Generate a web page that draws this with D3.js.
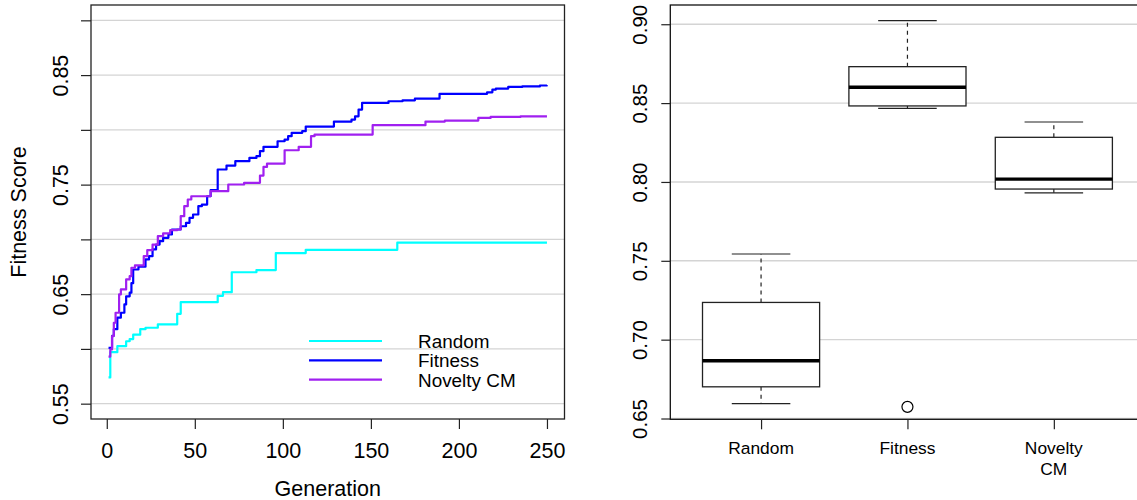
<!DOCTYPE html>
<html>
<head>
<meta charset="utf-8">
<script src="https://cdn.jsdelivr.net/npm/d3@7"></script>
<style>
  body { margin: 0; background: #fff; }
  svg { display: block; font-family: "Liberation Sans", Arial, Helvetica, sans-serif; }
  .grid line { stroke: #d4d4d4; stroke-width: 1.4; }
  .axis path { display: none; }
  .axis line { stroke: #222; stroke-width: 1.2; }
  .axis text { fill: #000; }
</style>
</head>
<body>
<div id="vis"></div>
<script>
// left panel: mean best fitness per generation, [generation, score] at every step change
const randomSteps = [[1,0.574],[2,0.597],[6,0.6025],[11,0.607],[13,0.609],[15,0.613],[19,0.618],[22,0.6193],
  [29,0.6224],[40,0.632],[42,0.6427],[63,0.6485],[66,0.6518],[71,0.670],[85,0.672],[96,0.6875],
  [113,0.6905],[165,0.697],[250,0.697]];
const fitnessSteps = [[1,0.601],[3,0.612],[4,0.618],[6,0.6285],[8,0.633],[10,0.6406],[11,0.648],[13,0.6513],
  [14,0.660],[15,0.6725],[18,0.675],[22,0.6817],[24,0.6847],[26,0.6908],[28,0.6953],[30,0.6984],[32,0.7014],
  [35,0.7045],[37,0.709],[42,0.712],[45,0.7151],[47,0.7197],[49,0.7227],[52,0.7303],[54,0.7318],[57,0.7394],
  [59,0.745],[63,0.7638],[68,0.7674],[73,0.7714],[81,0.7744],[85,0.776],[87,0.7805],[89,0.7845],[97,0.7896],
  [101,0.7911],[103,0.7942],[105,0.7973],[111,0.7988],[113,0.803],[129,0.8076],[139,0.8094],[141,0.8124],
  [143,0.8185],[145,0.8246],[160,0.8261],[168,0.827],[175,0.8286],[189,0.8329],[216,0.8343],[219,0.8368],
  [221,0.8377],[228,0.8392],[236,0.8397],[246,0.8405],[250,0.8407]];
const noveltySteps = [[1,0.593],[2,0.5995],[3,0.6117],[4,0.6239],[5,0.633],[7,0.6497],[8,0.6543],[11,0.6634],
  [13,0.6664],[14,0.6741],[16,0.6762],[21,0.6847],[23,0.6902],[26,0.6953],[29,0.7029],[32,0.7054],[36,0.7084],
  [40,0.709],[42,0.7212],[44,0.7303],[46,0.7364],[48,0.7394],[59,0.744],[69,0.7501],[78,0.7516],[87,0.7583],
  [89,0.7662],[91,0.7692],[101,0.7814],[109,0.7845],[116,0.7942],[118,0.7957],[151,0.8043],[181,0.8076],
  [192,0.8085],[211,0.8109],[218,0.8118],[235,0.8124],[250,0.8124]];

const seriesNames = ["Random", "Fitness", "Novelty CM"];
const seriesColors = ["#00ffff", "#0000ff", "#a020f0"];

const genTicks = [0, 50, 100, 150, 200, 250];
const leftYTicks = [0.55, 0.60, 0.65, 0.70, 0.75, 0.80, 0.85, 0.90];
const leftYLabels = [0.55, 0.65, 0.75, 0.85];

// right panel: final fitness boxplots
const boxGroups = ["Random", "Fitness", "Novelty\nCM"];
const boxLow = [0.6595, 0.8467, 0.7931];
const boxQ1 = [0.6701, 0.8482, 0.7955];
const boxMedian = [0.6866, 0.860, 0.8018];
const boxQ3 = [0.7236, 0.8731, 0.8283];
const boxHigh = [0.7543, 0.9023, 0.838];
const boxOutliers = [[2, 0.6574]];
const rightYTicks = [0.65, 0.70, 0.75, 0.80, 0.85, 0.90];

const width = 1137, height = 500;
const svg = d3.select("#vis").append("svg")
  .attr("width", width)
  .attr("height", height);

/////////////// LEFT PANEL ///////////////
const L = { left: 91, right: 564.5, top: 5, bottom: 419 };
const xL = d3.scaleLinear().domain([-8.96, 259.96]).range([L.left, L.right]);
const yL = d3.scaleLinear().domain([0.536, 0.914]).range([L.bottom, L.top]);

svg.append("g").attr("class", "grid")
  .selectAll("line").data(leftYTicks).join("line")
  .attr("x1", L.left).attr("x2", L.right)
  .attr("y1", d => yL(d)).attr("y2", d => yL(d));

const stepLine = d3.line()
  .x(d => xL(d[0]))
  .y(d => yL(d[1]))
  .curve(d3.curveStepAfter);

[randomSteps, fitnessSteps, noveltySteps].forEach((s, i) => {
  svg.append("path")
    .datum(s)
    .attr("d", stepLine)
    .attr("fill", "none")
    .attr("stroke", seriesColors[i])
    .attr("stroke-width", 2.2)
    .attr("stroke-linejoin", "round");
});

svg.append("g").attr("class", "axis")
  .attr("transform", `translate(0, ${L.bottom})`)
  .call(d3.axisBottom(xL).tickValues(genTicks).tickSize(10).tickPadding(14))
  .selectAll("text").style("font-size", "21.5px");

const yAxisL = svg.append("g").attr("class", "axis")
  .attr("transform", `translate(${L.left}, 0)`)
  .call(d3.axisLeft(yL).tickValues(leftYTicks).tickSize(10)
    .tickFormat(d => leftYLabels.some(v => Math.abs(v - d) < 1e-9) ? d3.format(".2f")(d) : ""));
yAxisL.selectAll("text")
  .attr("transform", "rotate(-90)")
  .attr("x", 0).attr("y", -23).attr("dy", null)
  .attr("text-anchor", "middle")
  .style("font-size", "21.5px");

svg.append("rect")
  .attr("x", L.left).attr("y", L.top)
  .attr("width", L.right - L.left).attr("height", L.bottom - L.top)
  .attr("fill", "none").attr("stroke", "#222").attr("stroke-width", 1.3);

svg.append("text")
  .attr("x", (L.left + L.right) / 2).attr("y", 496)
  .attr("text-anchor", "middle")
  .style("font-size", "21.5px")
  .text("Generation");

svg.append("text")
  .attr("transform", `translate(26, ${(L.top + L.bottom) / 2}) rotate(-90)`)
  .attr("text-anchor", "middle")
  .style("font-size", "21.5px")
  .text("Fitness Score");

// legend
const legend = svg.append("g").attr("transform", "translate(309, 341)");
seriesNames.forEach((name, i) => {
  legend.append("line")
    .attr("x1", 0).attr("x2", 73)
    .attr("y1", i * 19.3).attr("y2", i * 19.3)
    .attr("stroke", seriesColors[i]).attr("stroke-width", 2.2);
  legend.append("text")
    .attr("x", 109).attr("y", i * 19.3 + 7)
    .style("font-size", "18.9px")
    .text(name);
});

/////////////// RIGHT PANEL ///////////////
const R = { left: 670.3, right: 1144.6, top: 5, bottom: 419.3 };
const xR = d3.scaleLinear().domain([0.38, 3.62]).range([R.left, R.right]);
const yR = d3.scaleLinear().domain([0.6495, 0.9122]).range([R.bottom, R.top]);

svg.append("g").attr("class", "grid")
  .selectAll("line").data(rightYTicks).join("line")
  .attr("x1", R.left).attr("x2", width)
  .attr("y1", d => yR(d)).attr("y2", d => yR(d));

const boxW = 0.4, capW = 0.2;
boxGroups.forEach((g, i) => {
  const c = i + 1;
  const grp = svg.append("g");
  // dashed whiskers
  grp.append("line")
    .attr("x1", xR(c)).attr("x2", xR(c))
    .attr("y1", yR(boxQ3[i])).attr("y2", yR(boxHigh[i]))
    .attr("stroke", "#222").attr("stroke-width", 1.2).attr("stroke-dasharray", "4,4");
  grp.append("line")
    .attr("x1", xR(c)).attr("x2", xR(c))
    .attr("y1", yR(boxQ1[i])).attr("y2", yR(boxLow[i]))
    .attr("stroke", "#222").attr("stroke-width", 1.2).attr("stroke-dasharray", "4,4");
  // caps
  [boxHigh[i], boxLow[i]].forEach(v => {
    grp.append("line")
      .attr("x1", xR(c - capW)).attr("x2", xR(c + capW))
      .attr("y1", yR(v)).attr("y2", yR(v))
      .attr("stroke", "#222").attr("stroke-width", 1.2);
  });
  grp.append("rect")
    .attr("x", xR(c - boxW)).attr("width", xR(c + boxW) - xR(c - boxW))
    .attr("y", yR(boxQ3[i])).attr("height", yR(boxQ1[i]) - yR(boxQ3[i]))
    .attr("fill", "#fff").attr("stroke", "#222").attr("stroke-width", 1.3);
  grp.append("line")
    .attr("x1", xR(c - boxW)).attr("x2", xR(c + boxW))
    .attr("y1", yR(boxMedian[i])).attr("y2", yR(boxMedian[i]))
    .attr("stroke", "#000").attr("stroke-width", 3.4);
});

svg.selectAll("circle.out")
  .data(boxOutliers).join("circle")
  .attr("class", "out")
  .attr("cx", d => xR(d[0])).attr("cy", d => yR(d[1]))
  .attr("r", 5.5)
  .attr("fill", "#fff").attr("stroke", "#000").attr("stroke-width", 1.2);

svg.append("rect")
  .attr("x", R.left).attr("y", R.top)
  .attr("width", R.right - R.left).attr("height", R.bottom - R.top)
  .attr("fill", "none").attr("stroke", "#111").attr("stroke-width", 1.3);

const yAxisR = svg.append("g").attr("class", "axis")
  .attr("transform", `translate(${R.left}, 0)`)
  .call(d3.axisLeft(yR).tickValues(rightYTicks).tickSize(9).tickFormat(d3.format(".2f")));
yAxisR.selectAll("text")
  .attr("transform", "rotate(-90)")
  .attr("x", 0).attr("y", -23).attr("dy", null)
  .attr("text-anchor", "middle")
  .style("font-size", "20.5px");

const xAxisR = svg.append("g").attr("class", "axis")
  .attr("transform", `translate(0, ${R.bottom})`)
  .call(d3.axisBottom(xR).tickValues([1, 2, 3]).tickSize(10).tickFormat(""));

boxGroups.forEach((g, i) => {
  const t = svg.append("text")
    .attr("x", xR(i + 1)).attr("y", 453.5)
    .attr("text-anchor", "middle")
    .style("font-size", "17.4px");
  g.split("\n").forEach((part, j) => {
    t.append("tspan").attr("x", xR(i + 1)).attr("dy", j === 0 ? 0 : 21.5).text(part);
  });
});
</script>
</body>
</html>
